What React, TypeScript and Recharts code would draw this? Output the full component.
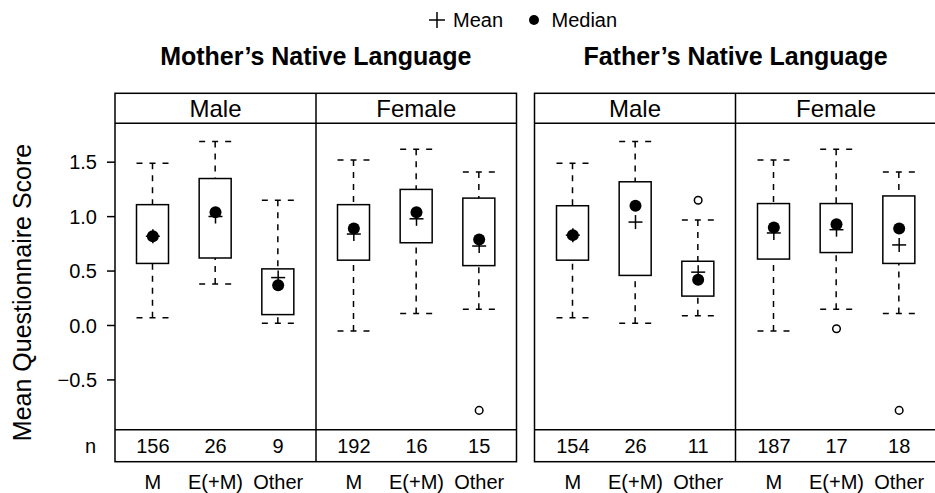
import React from "react";
import { ComposedChart, Bar, Line, XAxis, YAxis } from "recharts";

const FONT = '"Liberation Sans", Arial, Helvetica, sans-serif';

const categories = ["M", "E(+M)", "Other"];
const sexes = ["Male", "Female"];
const parents = ["Mother\u2019s Native Language", "Father\u2019s Native Language"];
const yTicks = [-0.5, 0, 0.5, 1, 1.5];

// 12 boxes, ordered: mother male, mother female, father male, father female (M, E(+M), Other each)
const whiskerHigh = [1.49, 1.69, 1.15, 1.52, 1.62, 1.41, 1.49, 1.69, 0.97, 1.52, 1.62, 1.41];
const upperQuartile = [1.11, 1.35, 0.52, 1.11, 1.25, 1.17, 1.10, 1.32, 0.59, 1.12, 1.12, 1.19];
const medians = [0.82, 1.04, 0.37, 0.89, 1.04, 0.79, 0.83, 1.10, 0.42, 0.90, 0.93, 0.89];
const means = [0.82, 1.0, 0.44, 0.84, 0.98, 0.73, 0.83, 0.95, 0.49, 0.85, 0.88, 0.74];
const lowerQuartile = [0.57, 0.62, 0.10, 0.60, 0.76, 0.55, 0.60, 0.46, 0.27, 0.61, 0.67, 0.57];
const whiskerLow = [0.07, 0.38, 0.02, -0.05, 0.11, 0.15, 0.07, 0.02, 0.09, -0.05, 0.15, 0.11];
const outliers = [null, null, null, null, null, -0.78, null, null, 1.15, null, -0.03, -0.78];
const counts = [156, 26, 9, 192, 16, 15, 154, 26, 11, 187, 17, 18];

const buildRows = (panel: number) =>
  categories.map((cat, i) => {
    const k = panel * 3 + i;
    return {
      cat,
      whisker: [whiskerLow[k], whiskerHigh[k]],
      lo: whiskerLow[k],
      q1: lowerQuartile[k],
      q3: upperQuartile[k],
      hi: whiskerHigh[k],
      median: medians[k],
      mean: means[k],
      outlier: outliers[k],
      n: counts[k],
    };
  });

// whiskers + box, positioned from the whisker range bar
const BoxShape = (props: any) => {
  const { x, y, width, height, payload } = props;
  const { lo, hi, q1, q3 } = payload;
  const k = height / (hi - lo);
  const py = (v: number) => y + (hi - v) * k;
  const cx = x + width / 2;
  return (
    <g stroke="#000" strokeWidth={1.5} fill="none">
      <line x1={x} x2={x + width} y1={py(hi)} y2={py(hi)} strokeDasharray="6 7" />
      <line x1={cx} x2={cx} y1={py(hi)} y2={py(q3)} strokeDasharray="6 6" />
      <line x1={cx} x2={cx} y1={py(lo)} y2={py(q1)} strokeDasharray="6 6" />
      <line x1={x} x2={x + width} y1={py(lo)} y2={py(lo)} strokeDasharray="6 7" />
      <rect x={x} y={py(q3)} width={width} height={py(q1) - py(q3)} />
    </g>
  );
};

const renderMedian = (p: any) =>
  p.value == null || p.cy == null ? (
    <g key={`md${p.index}`} />
  ) : (
    <circle key={`md${p.index}`} cx={p.cx} cy={p.cy} r={6} fill="#000" />
  );

const renderMean = (p: any) =>
  p.value == null || p.cy == null ? (
    <g key={`mn${p.index}`} />
  ) : (
    <g key={`mn${p.index}`} stroke="#000" strokeWidth={1.5}>
      <line x1={p.cx - 7} x2={p.cx + 7} y1={p.cy} y2={p.cy} />
      <line x1={p.cx} x2={p.cx} y1={p.cy - 7} y2={p.cy + 7} />
    </g>
  );

const renderOutlier = (p: any) =>
  p.value == null || p.cy == null ? (
    <g key={`ol${p.index}`} />
  ) : (
    <circle key={`ol${p.index}`} cx={p.cx} cy={p.cy} r={3.8} fill="none" stroke="#000" strokeWidth={1.5} />
  );

const fmtY = (v: number) => (v < 0 ? "\u2212" + Math.abs(v).toFixed(1) : v.toFixed(1));

const YTitle = (props: any) => {
  const { viewBox } = props;
  const cx = viewBox.x + 31;
  const cy = viewBox.y + viewBox.height / 2 + 16;
  return (
    <text x={cx} y={cy} transform={`rotate(-90 ${cx} ${cy})`} textAnchor="middle" fontSize={25} fill="#000" fontFamily={FONT}>
      Mean Questionnaire Score
    </text>
  );
};

const Panel = ({ panel, withAxis }: { panel: number; withAxis: boolean }) => {
  const rows = buildRows(panel);
  const renderTick = (p: any) => (
    <g key={`t${p.index}`} fontFamily={FONT} fontSize={20} fill="#000">
      <text x={p.x} y={p.y + 23} textAnchor="middle">{rows[p.index]?.n}</text>
      <text x={p.x} y={p.y + 59} textAnchor="middle">{p.payload.value}</text>
    </g>
  );
  return (
    <ComposedChart width={withAxis ? 316 : 201} height={370} data={rows} margin={{ top: 0, right: 0, bottom: 0, left: 0 }}>
      <XAxis
        dataKey="cat"
        type="category"
        height={63}
        padding={{ left: 6.5, right: 6.5 }}
        axisLine={false}
        tickLine={false}
        tickSize={0}
        tickMargin={0}
        interval={0}
        tick={renderTick}
      />
      <YAxis
        type="number"
        domain={[-0.96, 1.86]}
        allowDataOverflow
        ticks={yTicks}
        hide={!withAxis}
        width={115}
        axisLine={false}
        tickSize={8}
        tickMargin={10}
        tickLine={{ stroke: "#000", strokeWidth: 1.5 }}
        tick={{ fill: "#000", fontSize: 20, fontFamily: FONT }}
        tickFormatter={fmtY}
        label={<YTitle />}
      />
      <Bar dataKey="whisker" barSize={32} shape={BoxShape} isAnimationActive={false} />
      <Line dataKey="median" stroke="none" dot={renderMedian} activeDot={false} isAnimationActive={false} />
      <Line dataKey="mean" stroke="none" dot={renderMean} activeDot={false} isAnimationActive={false} />
      <Line dataKey="outlier" stroke="none" dot={renderOutlier} activeDot={false} isAnimationActive={false} />
    </ComposedChart>
  );
};

// panel frames: [left, right] of each parent block, with the sex divider in the middle
const frames = [
  { x0: 115, x1: 516.5, mid: 316 },
  { x0: 534.5, x1: 936.5, mid: 735.5 },
];

export default function App() {
  return (
    <div style={{ position: "absolute", left: 0, top: 0, width: 935, height: 493, background: "#fff", fontFamily: FONT, overflow: "hidden" }}>
      <div style={{ position: "absolute", left: 0, top: 123 }}>
        <Panel panel={0} withAxis />
      </div>
      <div style={{ position: "absolute", left: 316, top: 123 }}>
        <Panel panel={1} withAxis={false} />
      </div>
      <div style={{ position: "absolute", left: 534.5, top: 123 }}>
        <Panel panel={2} withAxis={false} />
      </div>
      <div style={{ position: "absolute", left: 735.5, top: 123 }}>
        <Panel panel={3} withAxis={false} />
      </div>
      <svg width={935} height={493} style={{ position: "absolute", left: 0, top: 0, pointerEvents: "none" }} fontFamily={FONT}>
        {/* legend */}
        <g stroke="#000" strokeWidth={1.5}>
          <line x1={429} x2={445} y1={20} y2={20} />
          <line x1={437} x2={437} y1={12} y2={28} />
        </g>
        <text x={453} y={27} fontSize={20} fill="#000">Mean</text>
        <circle cx={534} cy={20} r={5} fill="#000" />
        <text x={551.5} y={27} fontSize={20} fill="#000">Median</text>

        {frames.map((f, i) => (
          <g key={i}>
            <text x={(f.x0 + f.x1) / 2} y={65} textAnchor="middle" fontSize={25} fontWeight="bold" fill="#000">
              {parents[i]}
            </text>
            <g stroke="#000" strokeWidth={1.5} fill="none">
              <rect x={f.x0} y={93.3} width={f.x1 - f.x0} height={368.4} />
              <line x1={f.x0} x2={f.x1} y1={123.3} y2={123.3} />
              <line x1={f.x0} x2={f.x1} y1={429.7} y2={429.7} />
              <line x1={f.mid} x2={f.mid} y1={93.3} y2={461.7} />
            </g>
            {sexes.map((s, j) => (
              <text
                key={s}
                x={j === 0 ? (f.x0 + f.mid) / 2 : (f.mid + f.x1) / 2}
                y={117}
                textAnchor="middle"
                fontSize={24}
                fill="#000"
              >
                {s}
              </text>
            ))}
          </g>
        ))}
        <text x={96} y={453} textAnchor="end" fontSize={20} fill="#000">n</text>
      </svg>
    </div>
  );
}
